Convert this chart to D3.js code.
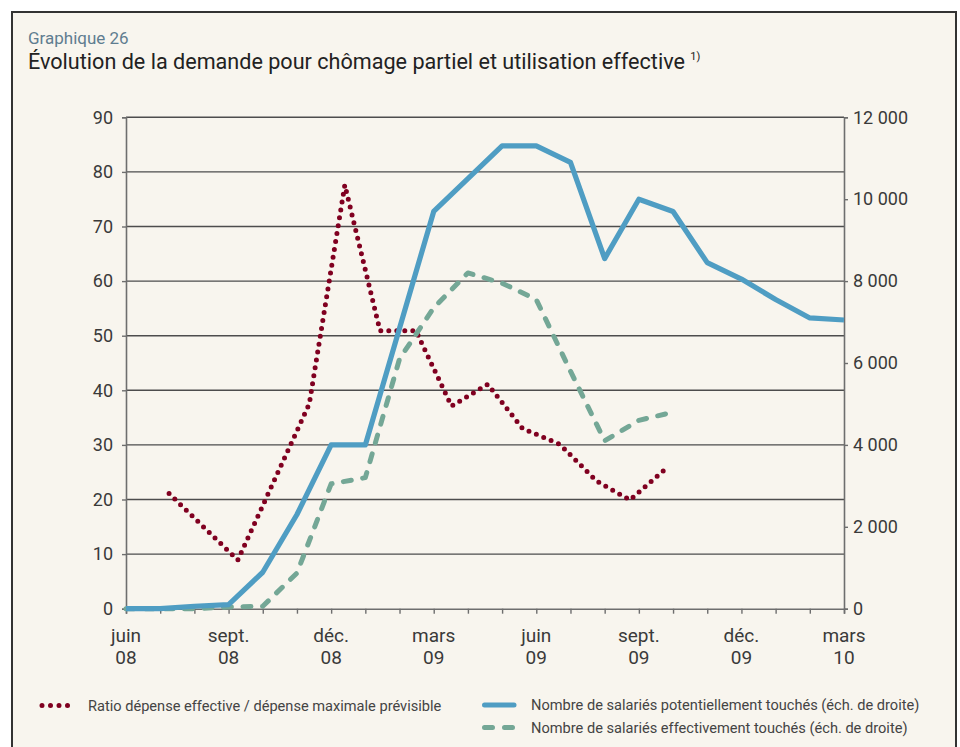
<!DOCTYPE html>
<html><head><meta charset="utf-8">
<script src="https://cdn.jsdelivr.net/npm/d3@7"></script>
<style>
html,body{margin:0;padding:0;background:#fff;}
svg{display:block;font-family:Roboto,"Noto Sans",sans-serif;}
</style></head>
<body>
<script>
// ---- data ----
const monthLabels = ["juin","juil.","août","sept.","oct.","nov.","déc.","janv.","févr.","mars","avr.","mai",
  "juin","juil.","août","sept.","oct.","nov.","déc.","janv.","févr.","mars"];
const tickMonths = [0,3,6,9,12,15,18,21];
const tickLabels = [["juin","08"],["sept.","08"],["déc.","08"],["mars","09"],["juin","09"],["sept.","09"],["déc.","09"],["mars","10"]];
const leftTicks = [0,10,20,30,40,50,60,70,80,90];
const rightTicks = [0,2000,4000,6000,8000,10000,12000];

// Nombre de salariés potentiellement touchés (month index 0..21)
const potentiel = [0,0,60,100,890,2300,4000,4000,6850,9700,10500,11300,11300,10900,8550,10000,9700,8450,8050,7550,7100,7050];
// Nombre de salariés effectivement touchés (month index 0..16)
const effectif = [0,0,0,40,60,870,3050,3200,6100,7350,8200,7950,7550,5800,4100,4600,4800];
// Ratio dépense effective / dépense maximale prévisible (positions in months from juin 08)
const ratioPos = [1.26,2.28,3.27,4.3,5.36,6.4,7.43,8.48,9.52,10.58,11.6,12.69,13.76,14.74,15.78];
const ratio = [21.1,14.9,8.9,23,37.5,77.6,50.9,50.9,37.1,41.1,33.0,30.1,23.4,19.9,25.6];

const legendItems = [
  {label:"Ratio dépense effective / dépense maximale prévisible", type:"dot"},
  {label:"Nombre de salariés potentiellement touchés (éch. de droite)", type:"solid"},
  {label:"Nombre de salariés effectivement touchés (éch. de droite)", type:"dash"}
];

// ---- styles ----
const C = {bg:"#f8f5ee", frame:"#333", grid:"#4d4d4d", axis:"#6e6e6e", text:"#3a3a3a",
  blue:"#4f9dc3", green:"#74a796", red:"#800020", sub:"#5f7d90"};

const W=960,H=747;
const svg = d3.select("body").append("svg").attr("width",W).attr("height",H);
svg.append("rect").attr("x",12).attr("y",12).attr("width",944).attr("height",760)
  .attr("fill",C.bg).attr("stroke",C.frame).attr("stroke-width",2);

svg.append("text").attr("x",28).attr("y",44).attr("font-size",17).attr("fill",C.sub).text("Graphique 26");
const t = svg.append("text").attr("x",28).attr("y",69).attr("font-size",21.6).attr("fill","#222");
t.append("tspan").text("Évolution de la demande pour chômage partiel et utilisation effective ");
t.append("tspan").attr("font-size",11).attr("dy",-9).text("1)");

const x = d3.scaleLinear().domain([0,21]).range([126,844]);
const yL = d3.scaleLinear().domain([0,90]).range([608.7,117.3]);
const yR = d3.scaleLinear().domain([0,12000]).range([608.7,117.3]);

// grid
svg.append("g").selectAll("line").data(leftTicks.slice(1)).join("line")
  .attr("x1",126).attr("x2",844).attr("y1",d=>yL(d)).attr("y2",d=>yL(d))
  .attr("stroke",C.grid).attr("stroke-width",1.4);

// left axis
const gl = svg.append("g").attr("transform","translate(126,0)")
  .call(d3.axisLeft(yL).tickValues(leftTicks).tickSize(4).tickPadding(9));
gl.select(".domain").attr("stroke",C.axis).attr("stroke-width",1.6);
gl.selectAll(".tick line").attr("stroke",C.axis).attr("stroke-width",1.4);
gl.selectAll(".tick text").attr("font-size",18).attr("fill",C.text).attr("font-family","Roboto");

// right axis
const gr = svg.append("g").attr("transform","translate(844,0)")
  .call(d3.axisRight(yR).tickValues(rightTicks).tickSize(4).tickPadding(5)
    .tickFormat(d=>d3.format(",")(d).replace(/,/g," ")));
gr.select(".domain").attr("stroke",C.axis).attr("stroke-width",1.6);
gr.selectAll(".tick line").attr("stroke",C.axis).attr("stroke-width",1.4);
gr.selectAll(".tick text").attr("font-size",18).attr("fill",C.text).attr("font-family","Roboto");

// bottom axis
const gb = svg.append("g").attr("transform","translate(0,608.7)")
  .call(d3.axisBottom(x).tickValues(d3.range(monthLabels.length)).tickSize(5).tickFormat(""));
gb.select(".domain").attr("stroke",C.axis).attr("stroke-width",1.6);
gb.selectAll(".tick line").attr("stroke",C.axis).attr("stroke-width",1.4);
const xl = svg.append("g").selectAll("text").data(tickMonths).join("text")
  .attr("x",d=>x(d)).attr("text-anchor","middle").attr("font-size",19).attr("fill",C.text);
xl.append("tspan").attr("x",d=>x(d)).attr("y",642).text((d,i)=>tickLabels[i][0]);
xl.append("tspan").attr("x",d=>x(d)).attr("y",664).text((d,i)=>tickLabels[i][1]);

// series
const lineR = d3.line().x((d,i)=>x(ratioPos[i])).y(d=>yL(d));
const lineP = d3.line().x((d,i)=>x(i)).y(d=>yR(d));

svg.append("path").datum(ratio).attr("d",lineR).attr("fill","none")
  .attr("stroke",C.red).attr("stroke-width",5).attr("stroke-linecap","round")
  .attr("stroke-dasharray","0,8");
svg.append("path").datum(effectif).attr("d",lineP).attr("fill","none")
  .attr("stroke",C.green).attr("stroke-width",5).attr("stroke-linecap","round")
  .attr("stroke-linejoin","round").attr("stroke-dasharray","8,11.5");
svg.append("path").datum(potentiel).attr("d",lineP).attr("fill","none")
  .attr("stroke",C.blue).attr("stroke-width",5.2).attr("stroke-linejoin","round");

// legend
const lg = svg.append("g");
const lpos = [{x:40,y:705.5,tx:88},{x:482,y:705,tx:531},{x:482,y:727.5,tx:531}];
legendItems.forEach((it,i)=>{
  const p = lpos[i];
  const ln = lg.append("line").attr("x1",p.x+(it.type==="dot"?2:2.5)).attr("x2",p.x+(it.type==="dot"?31:32))
    .attr("y1",p.y).attr("y2",p.y).attr("stroke-linecap","round");
  if(it.type==="dot") ln.attr("stroke",C.red).attr("stroke-width",5).attr("stroke-dasharray","0,8.5");
  else if(it.type==="solid") ln.attr("stroke",C.blue).attr("stroke-width",5);
  else ln.attr("stroke",C.green).attr("stroke-width",5).attr("stroke-dasharray","8,12");
  lg.append("text").attr("x",p.tx).attr("y",p.y+5).attr("font-size",14.6).attr("fill","#444").text(it.label);
});
</script>
</body></html>
